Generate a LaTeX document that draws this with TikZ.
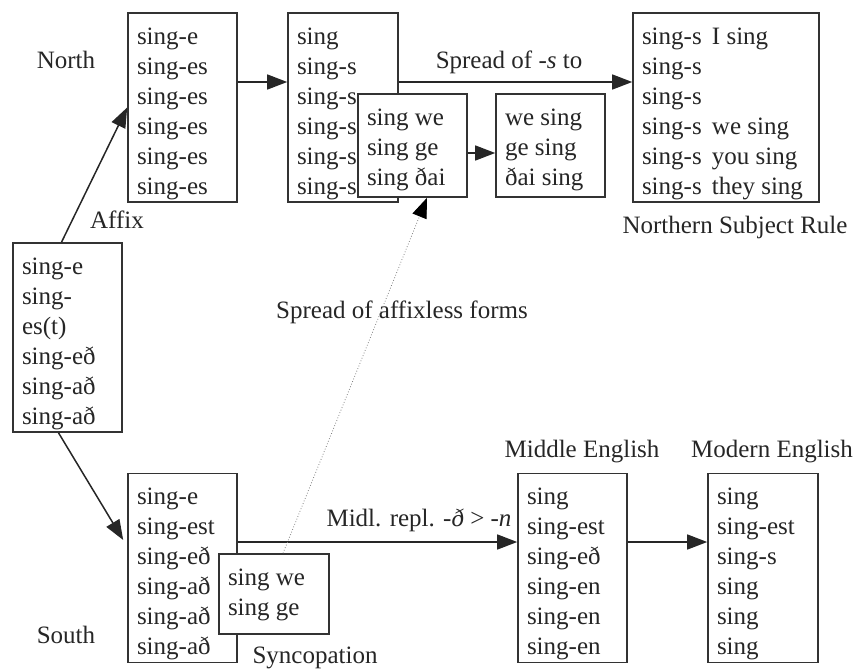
\documentclass[tikz,border=0pt]{standalone}
\usepackage{fontspec}
\setmainfont{Liberation Serif}
\usetikzlibrary{arrows.meta}
\newcommand{\fbtext}[3]{\parbox[c][#1][t]{#2}{\raggedright\rule{0pt}{31pt}#3}}
\begin{document}
\begin{tikzpicture}[x=1pt,y=-1pt,
  every node/.style={font=\fontsize{25}{30}\selectfont, text=black!85},
  formbox/.style={draw=black!80, line width=1.6pt, fill=white, rectangle,
    inner xsep=9pt, inner ysep=0pt, anchor=center},
  arr/.style={line width=1.5pt, draw=black!85, -{Triangle[length=20pt,width=15pt]}},
  lbl/.style={inner sep=0pt, anchor=center}
]
\useasboundingbox (0,0) rectangle (857,669);
% North boxes
\node[formbox] (A) at (182.5,107.5) {\fbtext{189pt}{91pt}{sing-e\\sing-es\\sing-es\\sing-es\\sing-es\\sing-es}};
\node[formbox] (B) at (343,107.5) {\fbtext{189pt}{92pt}{sing\\sing-s\\sing-s\\sing-s\\sing-s\\sing-s}};
\node[formbox] (C) at (412.5,145.5) {\fbtext{103pt}{91pt}{sing we\\sing ge\\sing ðai}};
\node[formbox] (D) at (550.5,145.5) {\fbtext{103pt}{91pt}{we sing\\ge sing\\ðai sing}};
\node[formbox] (E) at (726,107.5) {\fbtext{189pt}{168pt}{\makebox[70pt][l]{sing-s}I sing\\sing-s\\sing-s\\\makebox[70pt][l]{sing-s}we sing\\\makebox[70pt][l]{sing-s}you sing\\\makebox[70pt][l]{sing-s}they sing}};
% Left box
\node[formbox] (F) at (67.5,337.5) {\fbtext{189pt}{91pt}{sing-e\\sing-\\es(t)\\sing-eð\\sing-að\\sing-að}};
% South boxes
\node[formbox] (G) at (182.5,568) {\fbtext{189pt}{91pt}{sing-e\\sing-est\\sing-eð\\sing-að\\sing-að\\sing-að}};
\node[formbox] (H) at (274,594) {\fbtext{80pt}{92pt}{sing we\\sing ge}};
\node[formbox] (I) at (572.5,568) {\fbtext{189pt}{91pt}{sing\\sing-est\\sing-eð\\sing-en\\sing-en\\sing-en}};
\node[formbox] (J) at (763,568) {\fbtext{189pt}{92pt}{sing\\sing-est\\sing-s\\sing\\sing\\sing}};
% Labels
\node[lbl] (north) at (66,60) {North};
\node[lbl] (affix) at (117,220) {Affix};
\node[lbl] (spreads) at (509,62) {Spread of \textit{-s} to};
\node[lbl] (nsr) at (735,227) {Northern Subject Rule};
\node[lbl] (spreadaff) at (402,312) {Spread of affixless forms};
\node[lbl] (midl) at (419,520) {Midl. repl. \textit{-ð} > \textit{-n}};
\node[lbl] (mide) at (582,452) {Middle English};
\node[lbl] (mode) at (772,452) {Modern English};
\node[lbl] (south) at (66,635) {South};
\node[lbl] (sync) at (315,658) {Syncopation};
% Connectors
\draw[arr] ([xshift=-6pt]F.north) -- (A.west);
\draw[arr] ([xshift=-9pt]F.south) -- ([yshift=28pt,xshift=-4pt]G.west);
\draw[arr] ([yshift=25.5pt]A.east) -- ([yshift=25.5pt]B.east -| B.west);
\draw[arr] ([yshift=25.5pt]B.east) -- ([yshift=25.5pt]E.west);
\draw[arr] ([yshift=-7.5pt]C.east) -- ([yshift=-7.5pt]D.west);
\draw[arr] ([yshift=26pt]G.east) -- ([yshift=26pt]I.west);
\draw[arr] ([yshift=26pt]I.east) -- ([yshift=26pt]J.west);
\draw[line width=0.8pt, draw=black!50, dotted, -{Triangle[length=20pt,width=15pt,color=black,fill=black]}] ([xshift=9pt]H.north) -- ([xshift=14.5pt]C.south);
\end{tikzpicture}
\end{document}
